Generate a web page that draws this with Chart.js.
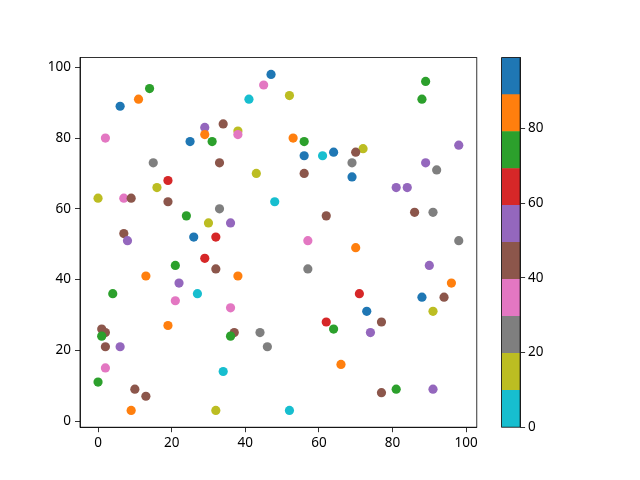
<!DOCTYPE html>
<html>
<head>
<meta charset="utf-8">
<script src="https://cdn.jsdelivr.net/npm/chart.js@4/dist/chart.umd.min.js"></script>
<style>
    body { margin: 0; background: #fff; }
    #wrap { position: relative; width: 640px; height: 480px; }
    #wrap canvas { position: absolute; left: 0; top: 0; }
</style>
</head>
<body>
<div id="wrap">
    <canvas id="scatterChart" width="640" height="480"></canvas>
    <canvas id="colorbarChart" width="640" height="480"></canvas>
</div>
<script>
// point data
const xValues = [47, 45, 14, 11, 41, 6, 34, 29, 29, 38, 38, 2, 25, 31, 15, 33, 43, 19, 16, 0,
    7, 9, 48, 19, 33, 24, 30, 36, 7, 8, 26, 32, 89, 52, 88, 53, 56, 98, 72, 70,
    64, 56, 61, 69, 89, 92, 56, 69, 81, 84, 86, 91, 62, 57, 70, 98, 29, 21, 32, 13,
    38, 22, 4, 27, 21, 36, 19, 1, 2, 1, 37, 36, 44, 46, 2, 6, 2, 34, 0, 10,
    13, 9, 32, 57, 90, 96, 71, 88, 94, 73, 91, 62, 77, 64, 74, 66, 81, 91, 77, 52];
const yValues = [98, 95, 94, 91, 91, 89, 84, 83, 81, 82, 81, 80, 79, 79, 73, 73, 70, 68, 66, 63,
    63, 63, 62, 62, 60, 58, 56, 56, 53, 51, 52, 52, 96, 92, 91, 80, 79, 78, 77, 76,
    76, 75, 75, 73, 73, 71, 70, 69, 66, 66, 59, 59, 58, 51, 49, 51, 46, 44, 43, 41,
    41, 39, 36, 36, 34, 32, 27, 26, 25, 24, 25, 24, 25, 21, 21, 21, 15, 14, 11, 9,
    7, 3, 3, 43, 44, 39, 36, 35, 35, 31, 31, 28, 28, 26, 25, 16, 9, 9, 8, 3];
const colorValues = [95, 35, 75, 85, 5, 95, 45, 55, 85, 15, 35, 35, 95, 75, 25, 45, 15, 65, 15, 15,
    35, 45, 5, 45, 25, 75, 15, 55, 45, 55, 95, 65, 75, 15, 75, 85, 75, 55, 15, 45,
    95, 95, 5, 25, 55, 25, 45, 95, 55, 55, 45, 25, 45, 35, 85, 25, 65, 75, 45, 85,
    85, 55, 75, 5, 35, 35, 85, 45, 45, 75, 45, 75, 25, 25, 45, 55, 35, 5, 75, 45,
    45, 85, 15, 25, 55, 85, 65, 95, 45, 95, 15, 65, 45, 75, 55, 85, 75, 55, 45, 5];

const xTicks = [0, 20, 40, 60, 80, 100];
const yTicks = [0, 20, 40, 60, 80, 100];
const colorbarTicks = [0, 20, 40, 60, 80];
const colorMin = 0;
const colorMax = 99;

// tab10 reversed, low values first
const palette = ['#17becf', '#bcbd22', '#7f7f7f', '#e377c2', '#8c564b',
    '#9467bd', '#d62728', '#2ca02c', '#ff7f0e', '#1f77b4'];

const FONT = { family: 'Noto Sans', size: 13.5 };

function colorFor(v) {
    let i = Math.floor((v - colorMin) / (colorMax - colorMin) * palette.length);
    if (i > palette.length - 1) i = palette.length - 1;
    if (i < 0) i = 0;
    return palette[i];
}

// draws the full black box around the plot area
const frame = {
    id: 'frame',
    afterDraw(chart) {
        const a = chart.chartArea;
        const ctx = chart.ctx;
        ctx.save();
        ctx.strokeStyle = '#000';
        ctx.lineWidth = 0.8;
        ctx.strokeRect(a.left, a.top, a.right - a.left, a.bottom - a.top);
        ctx.restore();
    }
};

function axisGrid() {
    return {
        drawOnChartArea: false,
        drawTicks: true,
        tickLength: 5,
        tickColor: '#000',
        lineWidth: 0.8
    };
}

const points = xValues.map((x, i) => ({ x: x, y: yValues[i] }));

new Chart(document.getElementById('scatterChart').getContext('2d'), {
    type: 'scatter',
    data: {
        datasets: [{
            data: points,
            pointBackgroundColor: colorValues.map(colorFor),
            pointBorderWidth: 0,
            pointRadius: 4.6
        }]
    },
    options: {
        responsive: false,
        animation: false,
        devicePixelRatio: 1,
        layout: { padding: { left: 0, top: 57.6, right: 163.2, bottom: 0 } },
        plugins: { legend: { display: false }, tooltip: { enabled: false } },
        scales: {
            x: {
                type: 'linear',
                min: -4.9,
                max: 102.9,
                afterFit: s => { s.height = 52.8; },
                afterBuildTicks: s => { s.ticks = xTicks.map(v => ({ value: v })); },
                grid: axisGrid(),
                border: { display: true, color: '#000', width: 0.8 },
                ticks: { color: '#000', font: FONT, padding: 3, autoSkip: false, maxRotation: 0 }
            },
            y: {
                type: 'linear',
                min: -1.75,
                max: 102.75,
                afterFit: s => { s.width = 80; },
                afterBuildTicks: s => { s.ticks = yTicks.map(v => ({ value: v })); },
                grid: axisGrid(),
                border: { display: true, color: '#000', width: 0.8 },
                ticks: { color: '#000', font: FONT, padding: 4, autoSkip: false }
            }
        }
    },
    plugins: [frame]
});

// colorbar: one stacked bar, one band per colour
const bandSize = (colorMax - colorMin) / palette.length;

new Chart(document.getElementById('colorbarChart').getContext('2d'), {
    type: 'bar',
    data: {
        labels: [''],
        datasets: palette.map(c => ({
            data: [bandSize],
            backgroundColor: c,
            borderWidth: 0,
            barPercentage: 1,
            categoryPercentage: 1
        }))
    },
    options: {
        responsive: false,
        animation: false,
        devicePixelRatio: 1,
        layout: { padding: { left: 501.6, top: 57.6, right: 79.9, bottom: 52.8 } },
        plugins: { legend: { display: false }, tooltip: { enabled: false } },
        scales: {
            x: { stacked: true, display: false },
            y: {
                stacked: true,
                position: 'right',
                min: colorMin,
                max: colorMax,
                afterFit: s => { s.width = 40; },
                afterBuildTicks: s => { s.ticks = colorbarTicks.map(v => ({ value: v })); },
                grid: axisGrid(),
                border: { display: true, color: '#000', width: 0.8 },
                ticks: { color: '#000', font: FONT, padding: 3, autoSkip: false }
            }
        }
    },
    plugins: [frame]
});
</script>
</body>
</html>
